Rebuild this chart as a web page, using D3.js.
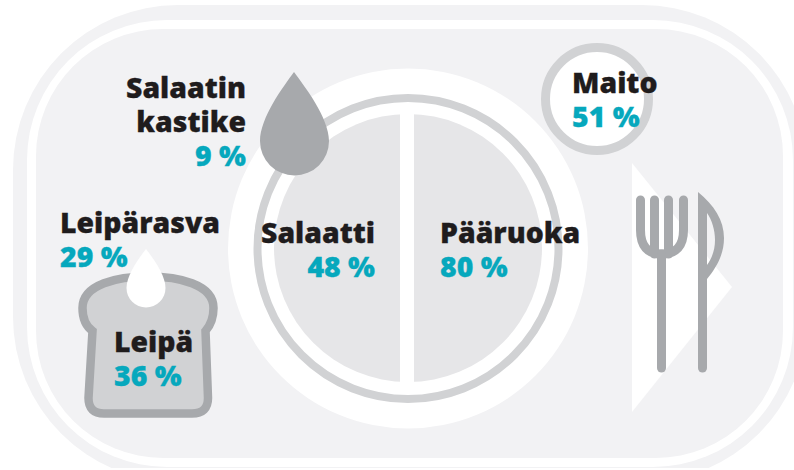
<!DOCTYPE html>
<html>
<head>
<meta charset="utf-8">
<script src="https://cdn.jsdelivr.net/npm/d3@7"></script>
<style>
  html, body { margin: 0; padding: 0; background: #fff; }
  svg { display: block; }
  text { font-family: "Open Sans", sans-serif; font-weight: 800; font-size: 28.4px; stroke-width: 0.3px; }
</style>
</head>
<body>
<div id="chart"></div>
<script>
// values
const categories = ["Salaatin kastike", "Leipärasva", "Leipä", "Salaatti", "Pääruoka", "Maito"];
const percents = [9, 29, 36, 48, 80, 51];

// colours
const cTray = "#f2f2f4", cDisk = "#e6e6e8", cRing = "#d1d2d4", cIcon = "#a7a9ac";
const cName = "#1f1c1d", cValue = "#06a8bd";

// where each label goes: x, baseline of the first line, anchor
const labelX = [246, 60, 114, 375, 440, 572];
const labelY = [98, 233, 352, 243, 243, 93];
const labelAnchor = ["end", "start", "start", "end", "start", "start"];
const lineGap = 34;

const svg = d3.select("#chart").append("svg")
    .attr("width", 794)
    .attr("height", 470);

// everything stops at the bottom of the picture
svg.append("clipPath").attr("id", "crop")
    .append("rect").attr("width", 794).attr("height", 468);
const bg = svg.append("g").attr("clip-path", "url(#crop)");

// tray: band, white gap, inner area
const tray = [
    { x: 13, y: 5, w: 794, h: 477, r: 165, fill: cTray },
    { x: 27, y: 20, w: 766, h: 447, r: 140, fill: "#fff" },
    { x: 36, y: 29, w: 747, h: 429, r: 127, fill: cTray }
];
bg.selectAll("rect.tray").data(tray).enter().append("rect")
    .attr("class", "tray")
    .attr("x", d => d.x).attr("y", d => d.y)
    .attr("width", d => d.w).attr("height", d => d.h)
    .attr("rx", d => d.r).attr("ry", d => d.r)
    .attr("fill", d => d.fill);

// plate
const plate = bg.append("g");
plate.append("circle").attr("cx", 408).attr("cy", 248.5).attr("r", 180).attr("fill", "#fff");
plate.append("circle").attr("cx", 408).attr("cy", 248.5).attr("r", 150.5)
    .attr("fill", "none").attr("stroke", cRing).attr("stroke-width", 8);
plate.append("circle").attr("cx", 408).attr("cy", 248).attr("r", 134).attr("fill", cDisk);
plate.append("rect").attr("x", 400).attr("y", 110).attr("width", 14).attr("height", 276).attr("fill", "#fff");

// sauce drop
bg.append("path")
    .attr("d", "M294,72 C305,87 329,118 329,141 A34.5,34.5 0 0 1 260,141 C260,118 283,87 294,72 Z")
    .attr("fill", cIcon);

// milk glass
bg.append("circle").attr("cx", 597).attr("cy", 99).attr("r", 51.5)
    .attr("fill", "#fff").attr("stroke", cRing).attr("stroke-width", 9);

// napkin
bg.append("path").attr("d", "M632,163 L732,287 L632,412 Z").attr("fill", "#fff");

// fork
const fork = bg.append("g").attr("fill", "none").attr("stroke", cIcon)
    .attr("stroke-width", 9).attr("stroke-linecap", "round");
fork.append("path").attr("d", "M640.5,200 V230 Q640.5,254 661.5,254 Q683.5,254 683.5,230 V200");
fork.append("path").attr("d", "M654.5,200 V254");
fork.append("path").attr("d", "M668.5,200 V254");
fork.append("path").attr("d", "M661.5,254 V368");

// knife
bg.append("path")
    .attr("d", "M698,192 C714,205 724,220 724,238 C724,255 716,268 707,279 L707,265 C712,258 715,250 715,240 C715,230 712,220 707,213 L707,225 H698 Z")
    .attr("fill", cIcon);
bg.append("path").attr("d", "M702.5,220 V368").attr("fill", "none")
    .attr("stroke", cIcon).attr("stroke-width", 9).attr("stroke-linecap", "round");

// bread
bg.append("path")
    .attr("d", "M148,276.5 C178,276.5 213.5,284 213.5,308 C213.5,320 209,327 205.5,331 L208,398 Q208,413.5 192,413.5 L104,413.5 Q88.5,413.5 88.5,398 L92.5,331 C87,327 82.5,320 82.5,308 C82.5,284 118,276.5 148,276.5 Z")
    .attr("fill", cRing).attr("stroke", cIcon).attr("stroke-width", 8.5);
bg.append("path")
    .attr("d", "M146,249 C153,258 165.5,275 165.5,288 A19.5,19.5 0 0 1 126.5,288 C126.5,275 139,258 146,249 Z")
    .attr("fill", "#fff");

// labels, one text per line so they do not share a box
svg.selectAll("g.label")
    .data(categories)
    .enter().append("g")
    .attr("class", "label")
    .each(function (d, i) {
        const lines = d.split(" ");
        const g = d3.select(this);
        lines.forEach((line, j) => {
            g.append("text")
                .attr("x", labelX[i])
                .attr("y", labelY[i] + j * lineGap)
                .attr("text-anchor", labelAnchor[i])
                .attr("fill", cName)
                .attr("stroke", cName)
                .text(line);
        });
        g.append("text")
            .attr("x", labelX[i])
            .attr("y", labelY[i] + lines.length * lineGap)
            .attr("text-anchor", labelAnchor[i])
            .attr("fill", cValue)
            .attr("stroke", cValue)
            .text(percents[i] + " %");
    });
</script>
</body>
</html>
